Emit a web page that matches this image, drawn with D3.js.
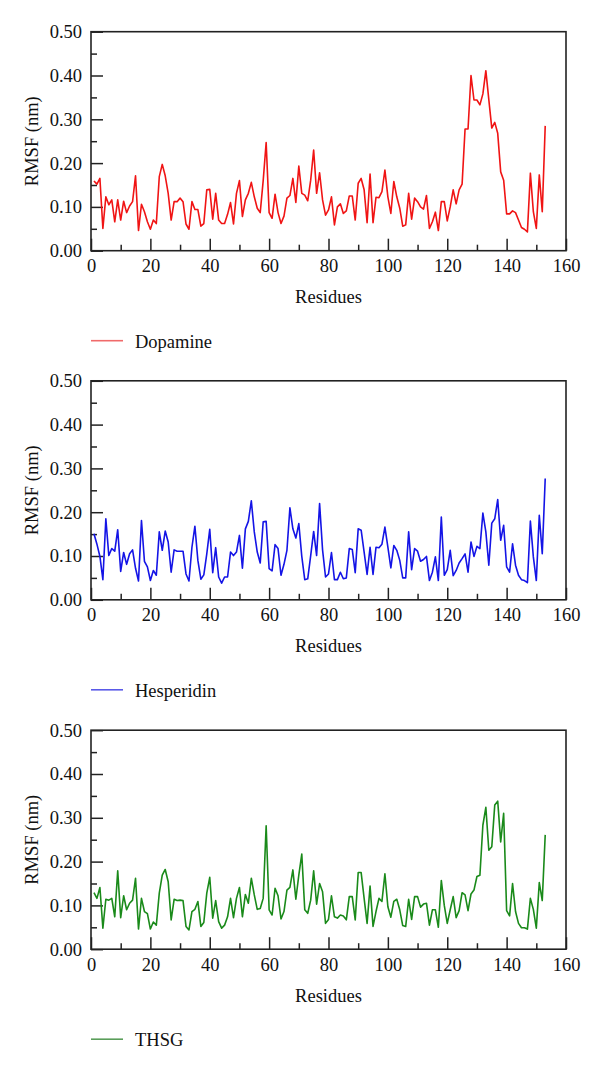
<!DOCTYPE html>
<html><head><meta charset="utf-8">
<script src="https://cdn.jsdelivr.net/npm/d3@7/dist/d3.min.js"></script>
<style>body{margin:0;background:#fff}svg{display:block}</style>
</head><body>
<script>
const residues = d3.range(1, 154);
const seriesNames = ["Dopamine", "Hesperidin", "THSG"];
const dopamine = [0.159,0.152,0.165,0.051,0.123,0.105,0.116,0.066,0.116,0.070,0.113,0.087,0.102,0.112,0.171,0.046,0.106,0.089,0.066,0.049,0.070,0.062,0.169,0.197,0.171,0.131,0.070,0.112,0.112,0.120,0.112,0.061,0.049,0.112,0.094,0.094,0.056,0.062,0.139,0.140,0.072,0.131,0.070,0.062,0.062,0.083,0.110,0.061,0.131,0.160,0.078,0.116,0.131,0.156,0.123,0.097,0.087,0.160,0.247,0.087,0.074,0.129,0.087,0.062,0.079,0.120,0.126,0.165,0.110,0.193,0.131,0.127,0.114,0.161,0.230,0.131,0.178,0.116,0.081,0.093,0.123,0.059,0.100,0.107,0.085,0.091,0.125,0.125,0.070,0.154,0.165,0.139,0.064,0.175,0.064,0.122,0.121,0.135,0.184,0.123,0.085,0.158,0.123,0.097,0.056,0.059,0.131,0.072,0.120,0.112,0.100,0.095,0.126,0.051,0.066,0.088,0.046,0.112,0.112,0.068,0.100,0.139,0.107,0.139,0.152,0.278,0.278,0.400,0.344,0.344,0.333,0.358,0.411,0.345,0.280,0.293,0.268,0.180,0.161,0.084,0.084,0.091,0.087,0.070,0.053,0.049,0.043,0.177,0.089,0.051,0.173,0.089,0.285];
const hesperidin = [0.151,0.127,0.099,0.046,0.185,0.101,0.117,0.111,0.160,0.065,0.108,0.081,0.105,0.114,0.072,0.043,0.181,0.088,0.075,0.044,0.067,0.056,0.155,0.113,0.157,0.132,0.063,0.114,0.111,0.111,0.111,0.059,0.043,0.120,0.168,0.090,0.047,0.057,0.105,0.161,0.062,0.119,0.052,0.038,0.052,0.052,0.109,0.101,0.109,0.147,0.072,0.162,0.179,0.226,0.155,0.109,0.084,0.178,0.179,0.071,0.066,0.126,0.117,0.056,0.081,0.113,0.210,0.162,0.141,0.174,0.099,0.046,0.048,0.101,0.156,0.101,0.220,0.114,0.052,0.059,0.108,0.046,0.046,0.063,0.048,0.050,0.117,0.115,0.062,0.162,0.159,0.109,0.058,0.120,0.058,0.120,0.119,0.127,0.166,0.120,0.073,0.124,0.113,0.090,0.050,0.050,0.155,0.069,0.117,0.111,0.088,0.092,0.099,0.044,0.063,0.098,0.044,0.189,0.056,0.069,0.113,0.055,0.067,0.084,0.094,0.105,0.063,0.132,0.099,0.122,0.117,0.198,0.155,0.079,0.175,0.185,0.229,0.136,0.170,0.075,0.063,0.128,0.079,0.056,0.046,0.044,0.039,0.180,0.098,0.044,0.193,0.105,0.277];
const thsg = [0.129,0.116,0.141,0.048,0.114,0.112,0.116,0.074,0.179,0.072,0.122,0.090,0.105,0.112,0.162,0.046,0.116,0.086,0.081,0.046,0.062,0.055,0.128,0.169,0.182,0.154,0.067,0.114,0.111,0.112,0.111,0.052,0.044,0.086,0.091,0.109,0.052,0.061,0.128,0.164,0.071,0.111,0.063,0.048,0.055,0.074,0.116,0.072,0.116,0.141,0.074,0.125,0.105,0.162,0.124,0.091,0.093,0.116,0.282,0.090,0.078,0.139,0.122,0.069,0.086,0.135,0.141,0.181,0.114,0.169,0.217,0.090,0.082,0.112,0.179,0.103,0.150,0.131,0.059,0.068,0.122,0.074,0.071,0.078,0.076,0.067,0.120,0.120,0.067,0.175,0.175,0.116,0.059,0.144,0.052,0.086,0.116,0.109,0.172,0.097,0.073,0.109,0.114,0.090,0.054,0.052,0.114,0.068,0.120,0.120,0.096,0.103,0.105,0.055,0.090,0.090,0.050,0.157,0.100,0.059,0.090,0.120,0.072,0.088,0.129,0.124,0.088,0.126,0.135,0.166,0.169,0.283,0.324,0.226,0.234,0.329,0.338,0.245,0.310,0.088,0.076,0.150,0.086,0.059,0.049,0.049,0.046,0.116,0.091,0.048,0.152,0.111,0.261];
const xMajorTicks = [0,20,40,60,80,100,120,140,160];
const xMinorTicks = [10,30,50,70,90,110,130,150];
const yMajorTicks = [0,0.1,0.2,0.3,0.4,0.5];
const yMinorTicks = [0.05,0.15,0.25,0.35,0.45];
const xTitle = "Residues";
const yTitle = "RMSF (nm)";

const lineColors = ["#f01414", "#1414e6", "#1a8a1a"];
const legendColors = ["#f06a6a", "#5a5ae8", "#5a9e5a"];
const dataSets = [dopamine, hesperidin, thsg];

const W = 600, H = 1073;
const svg = d3.select("body").append("svg").attr("width", W).attr("height", H);
const FONT = "'Liberation Serif', 'DejaVu Serif', serif";

const left = 91, right = 566, plotH = 219;
const tops = [31.7, 380.8, 730.2];

const x = d3.scaleLinear().domain([0, 160]).range([left, right]);

dataSets.forEach((vals, i) => {
  const top = tops[i], bottom = top + plotH;
  const y = d3.scaleLinear().domain([0, 0.5]).range([bottom, top]);
  const g = svg.append("g");

  // minor ticks
  g.append("g").attr("transform", `translate(0,${bottom})`)
    .call(d3.axisBottom(x).tickValues(xMinorTicks).tickSizeInner(-6).tickSizeOuter(0).tickFormat(""))
    .call(s => s.select(".domain").remove());
  g.append("g").attr("transform", `translate(${left},0)`)
    .call(d3.axisLeft(y).tickValues(yMinorTicks).tickSizeInner(-6).tickSizeOuter(0).tickFormat(""))
    .call(s => s.select(".domain").remove());

  // major axes
  const xa = g.append("g").attr("transform", `translate(0,${bottom})`)
    .call(d3.axisBottom(x).tickValues(xMajorTicks).tickSizeInner(-12).tickSizeOuter(0).tickPadding(8.5).tickFormat(d3.format("d")));
  xa.select(".domain").remove();
  const ya = g.append("g").attr("transform", `translate(${left},0)`)
    .call(d3.axisLeft(y).tickValues(yMajorTicks).tickSizeInner(-12).tickSizeOuter(0).tickPadding(9).tickFormat(d3.format(".2f")));
  ya.select(".domain").remove();

  g.selectAll(".tick line").attr("stroke", "#222").attr("stroke-width", 1.5);
  g.selectAll(".tick text").attr("font-family", FONT).attr("font-size", 18.5).attr("fill", "#111");

  // data line
  g.append("path")
    .datum(vals)
    .attr("fill", "none")
    .attr("stroke", lineColors[i])
    .attr("stroke-width", 1.6)
    .attr("stroke-linejoin", "round")
    .attr("d", d3.line().x((d, k) => x(residues[k])).y(d => y(d)));

  // frame
  g.append("rect").attr("x", left).attr("y", top).attr("width", right - left).attr("height", plotH)
    .attr("fill", "none").attr("stroke", "#222").attr("stroke-width", 1.6);

  // titles
  g.append("text").attr("x", (left + right) / 2).attr("y", bottom + 52.5)
    .attr("text-anchor", "middle").attr("font-family", FONT).attr("font-size", 18.5).attr("fill", "#111")
    .text(xTitle);
  g.append("text").attr("transform", `translate(38,${(top + bottom) / 2}) rotate(-90)`)
    .attr("text-anchor", "middle").attr("font-family", FONT).attr("font-size", 18.5).attr("fill", "#111")
    .text(yTitle);

  // legend
  g.append("line").attr("x1", 91).attr("x2", 123).attr("y1", bottom + 90).attr("y2", bottom + 90)
    .attr("stroke", legendColors[i]).attr("stroke-width", 1.6);
  g.append("text").attr("x", 135).attr("y", bottom + 97).attr("font-family", FONT).attr("font-size", 18.5).attr("fill", "#111")
    .text(seriesNames[i]);
});
</script>
</body></html>
